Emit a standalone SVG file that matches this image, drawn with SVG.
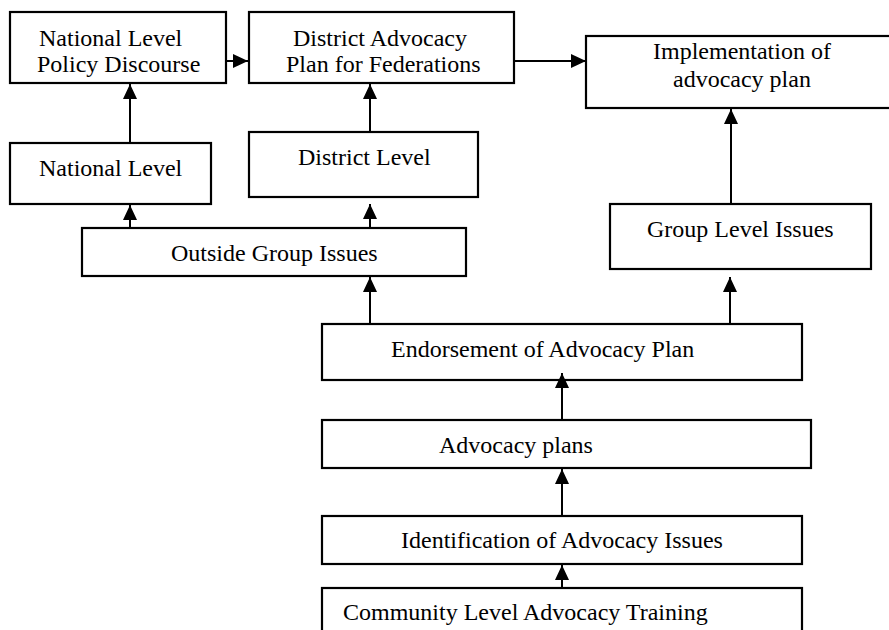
<svg xmlns="http://www.w3.org/2000/svg" width="889" height="630" viewBox="0 0 889 630">
<style>
.box{fill:#fff;stroke:#000;stroke-width:2.2}
.t{font-family:"Liberation Serif","Times New Roman",serif;font-size:24px;fill:#000}
.c{stroke:#000;stroke-width:2;fill:none}
</style>
<defs>
<marker id="ah" markerUnits="userSpaceOnUse" markerWidth="16" markerHeight="16" viewBox="0 0 16 14" refX="15" refY="7" orient="auto">
<path d="M0,0 L15,7 L0,14 Z" fill="#000"/>
</marker>
</defs>
<rect width="889" height="630" fill="#fff"/>
<g id="nlpd"><rect class="box" x="10" y="12" width="216" height="71"/><text class="t" x="39" y="46">National Level</text><text class="t" x="37" y="72">Policy Discourse</text></g>
<g id="dap"><rect class="box" x="249" y="12" width="265" height="71"/><text class="t" x="293" y="46">District Advocacy</text><text class="t" x="286" y="72">Plan for Federations</text></g>
<g id="impl"><rect class="box" x="586" y="36" width="310" height="72"/><text class="t" x="653" y="59">Implementation of</text><text class="t" x="673" y="87">advocacy plan</text></g>
<g id="natlevel"><rect class="box" x="10" y="143" width="201" height="61"/><text class="t" x="39" y="176">National Level</text></g>
<g id="distlevel"><rect class="box" x="249" y="132" width="229" height="65"/><text class="t" x="298" y="165">District Level</text></g>
<g id="ogi"><rect class="box" x="82" y="228" width="384" height="48"/><text class="t" x="171" y="261">Outside Group Issues</text></g>
<g id="gli"><rect class="box" x="610" y="204" width="261" height="65"/><text class="t" x="647" y="237">Group Level Issues</text></g>
<g id="endorse"><rect class="box" x="322" y="324" width="480" height="56"/><text class="t" x="391" y="357">Endorsement of Advocacy Plan</text></g>
<g id="advplans"><rect class="box" x="322" y="420" width="489" height="48"/><text class="t" x="439" y="453">Advocacy plans</text></g>
<g id="ident"><rect class="box" x="322" y="516" width="480" height="48"/><text class="t" x="401" y="548">Identification of Advocacy Issues</text></g>
<g id="community"><rect class="box" x="322" y="588" width="480" height="60"/><text class="t" x="343" y="620">Community Level Advocacy Training</text></g>
<g id="connectors">
<line class="c" x1="227" y1="61" x2="248" y2="61" marker-end="url(#ah)"/>
<line class="c" x1="515" y1="61" x2="586" y2="61" marker-end="url(#ah)"/>
<line class="c" x1="130" y1="142" x2="130" y2="84" marker-end="url(#ah)"/>
<line class="c" x1="370" y1="131" x2="370" y2="84" marker-end="url(#ah)"/>
<line class="c" x1="130" y1="227" x2="130" y2="205" marker-end="url(#ah)"/>
<line class="c" x1="370" y1="227" x2="370" y2="204" marker-end="url(#ah)"/>
<line class="c" x1="370" y1="323" x2="370" y2="277" marker-end="url(#ah)"/>
<line class="c" x1="731" y1="203" x2="731" y2="109" marker-end="url(#ah)"/>
<line class="c" x1="730" y1="323" x2="730" y2="277" marker-end="url(#ah)"/>
<line class="c" x1="562" y1="419" x2="562" y2="373" marker-end="url(#ah)"/>
<line class="c" x1="562" y1="515" x2="562" y2="469" marker-end="url(#ah)"/>
<line class="c" x1="562" y1="587" x2="562" y2="565" marker-end="url(#ah)"/>
</g>
</svg>
